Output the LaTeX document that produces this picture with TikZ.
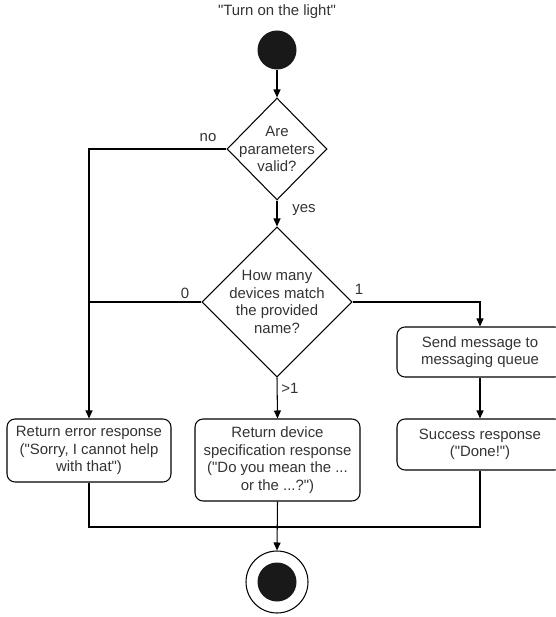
\documentclass[tikz,border=0pt]{standalone}
\usepackage{fontspec}
\setmainfont{Liberation Sans}[Ligatures=TeXOff]
\usetikzlibrary{shapes.geometric,arrows.meta}

\begin{document}
\begin{tikzpicture}[x=0.02cm,y=-0.02cm,%
  every node/.style={font=\fontsize{8.5}{10}\selectfont, text=black!80},%
  action/.style={draw, rounded corners=0.16cm, align=center, inner sep=0pt, line width=0.6pt},%
  decision/.style={draw, diamond, inner sep=0pt, line width=0.6pt},%
  flow/.style={line width=0.6pt, -{Triangle[length=0.16cm,width=0.14cm]}},%
  link/.style={line width=0.6pt},%
  startstate/.style={circle, fill=black!90, minimum size=0.78cm, inner sep=0pt},%
  endstate/.style={circle, draw, line width=0.6pt, minimum size=1.24cm, inner sep=0pt,%
    path picture={\fill[black!90] (path picture bounding box.center) circle (0.39cm);}}]%
\useasboundingbox (0,0) rectangle (555,617);%
\node (title) at (277,12) {"Turn on the light"};%
\node[startstate] (start) at (277,50) {};%
\node[decision, minimum width=2cm, minimum height=2.04cm,%
  label={[align=center]center:Are\\parameters\\valid?}] (valid) at (277,149) {};%
\node[decision, minimum width=3cm, minimum height=3cm,%
  label={[align=center]center:How many\\devices match\\the provided\\name?}] (match) at (277,302) {};%
\node[action, minimum width=3.32cm, minimum height=1cm] (send) at (480,352) {Send message to\\messaging queue};%
\node[action, minimum width=3.28cm, minimum height=1.26cm] (error) at (89,450.5) {Return error response\\("Sorry, I cannot help\\with that")};%
\node[action, minimum width=3.3cm, minimum height=1.64cm] (spec) at (277.5,460) {Return device\\specification response\\("Do you mean the ...\\or the ...?")};%
\node[action, minimum width=3.32cm, minimum height=1.02cm] (success) at (480,444.5) {Success response\\("Done!")};%
\node[endstate] (end) at (277,582) {};%
\coordinate (merge) at (277,527);%
% connectors
\draw[flow] (start) -- (valid.north);%
\draw[flow] (valid.south) -- (match.north);%
\draw[flow] (valid.west) -| (error.north);%
\draw[link] (match.west) -- (error.north |- match.west);%
\draw[flow] (match.east) -| (send.north);%
\draw[flow] (match.south) -- (spec.north);%
\draw[flow] (send.south) -- (success.north);%
\draw[link] (error.south) |- (merge) -| (success.south);%
\draw[flow] (spec.south) -- (end.north);%
% branch labels
\node (no) at (208,138) {no};%
\node (yes) at (304,210) {yes};%
\node (zero) at (185,293) {0};%
\node (one) at (359,289) {1};%
\node (many) at (290,388) {>1};%
\end{tikzpicture}
\end{document}
